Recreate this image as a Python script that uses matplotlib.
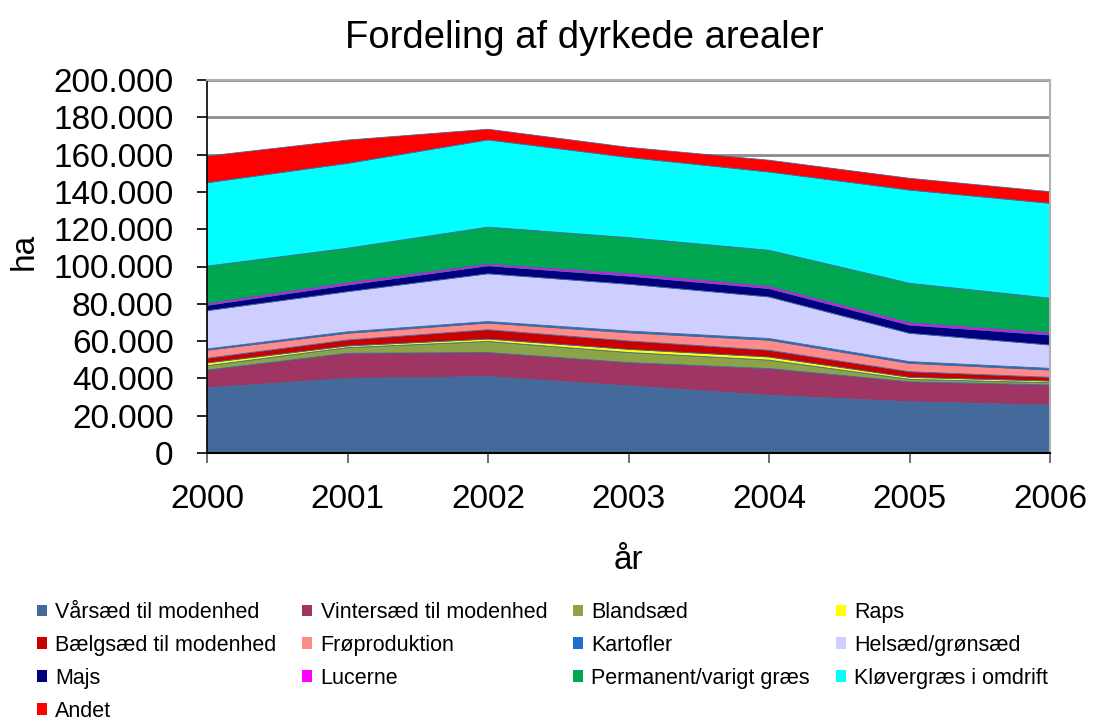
import matplotlib
matplotlib.use('Agg')
import matplotlib.pyplot as plt
from matplotlib.patches import Patch
from matplotlib.ticker import FuncFormatter

plt.rcParams['font.family'] = ['Liberation Sans', 'DejaVu Sans']

years = [2000, 2001, 2002, 2003, 2004, 2005, 2006]

labels = ['Vårsæd til modenhed', 'Vintersæd til modenhed', 'Blandsæd', 'Raps',
          'Bælgsæd til modenhed', 'Frøproduktion', 'Kartofler', 'Helsæd/grønsæd',
          'Majs', 'Lucerne', 'Permanent/varigt græs', 'Kløvergræs i omdrift', 'Andet']

vaarsaed = [35000, 40000, 41000, 36000, 31000, 27500, 25700]
vintersaed = [9500, 13500, 12900, 12500, 14300, 10700, 10800]
blandsaed = [2300, 3000, 5900, 5400, 4500, 1300, 1200]
raps = [1500, 900, 1300, 1700, 1700, 1100, 900]
baelgsaed = [2500, 3200, 5000, 4500, 3600, 3000, 2000]
froeproduktion = [4300, 3600, 3600, 4400, 5400, 4500, 3900]
kartofler = [700, 800, 800, 900, 900, 900, 900]
helsaed = [20500, 21500, 25600, 25100, 22300, 15200, 12500]
majs = [2900, 3600, 4300, 4400, 4500, 4400, 5400]
lucerne = [1000, 1200, 1000, 1300, 1200, 1300, 1200]
permanent = [20000, 18500, 19700, 19300, 19300, 21100, 18500]
kloevergraes = [44700, 45500, 46800, 43000, 42000, 50000, 50900]
andet = [14300, 12500, 5700, 5400, 6300, 6300, 6200]

series = [vaarsaed, vintersaed, blandsaed, raps, baelgsaed, froeproduktion, kartofler,
          helsaed, majs, lucerne, permanent, kloevergraes, andet]

colors = ['#44699B', '#9E3562', '#8BA447', '#FFFF00', '#C80000', '#FF8A8A', '#1E6FD0',
          '#CFCFFF', '#00007F', '#FF00FF', '#00A650', '#00FFFF', '#FF0000']

fig = plt.figure(figsize=(10.93, 7.22), dpi=100)
ax = fig.add_axes([207/1093, 1-453/722, (1050-207)/1093, (453-80)/722])

ax.stackplot(years, *series, colors=colors, linewidth=0.6, edgecolors=colors, zorder=2)

ax.set_xlim(2000, 2006)
ax.set_ylim(0, 200000)
ax.set_xticks(years)
ax.set_yticks(range(0, 200001, 20000))
ax.yaxis.set_major_formatter(FuncFormatter(lambda v, p: f"{int(v):,}".replace(',', '.')))
ax.tick_params(axis='both', labelsize=24, direction='out', length=7, width=1.2, colors='black')
ax.tick_params(axis='y', pad=17)
ax.tick_params(axis='x', pad=15, color='#555555')

ax.yaxis.grid(True, color='#8C8C8C', linewidth=2, zorder=0)
ax.set_axisbelow(True)
for s in ['top', 'right']:
    ax.spines[s].set_color('#B0B0B0')
    ax.spines[s].set_linewidth(1.5)
ax.spines['left'].set_linewidth(1.2)
ax.spines['bottom'].set_linewidth(1.5)

ax.set_xlabel('år', fontsize=24, labelpad=22)
ax.set_ylabel('ha', fontsize=24)
ax.yaxis.set_label_coords(-0.198, 0.54)

fig.text(584/1093, 1-38/722, 'Fordeling af dyrkede arealer', fontsize=27.5,
         ha='center', va='center')

order = [0, 4, 8, 12, 1, 5, 9, 2, 6, 10, 3, 7, 11]
handles = [Patch(facecolor=colors[i], edgecolor='none') for i in order]
fig.legend(handles, [labels[i] for i in order], ncol=4, loc='upper left',
           bbox_to_anchor=(37/1093, 1-602/722), frameon=False, fontsize=15.5,
           handlelength=0.45, handleheight=0.45, handletextpad=0.4,
           columnspacing=1.2, labelspacing=0.55, borderaxespad=0, borderpad=0)

fig.savefig('out.png', dpi=100)
